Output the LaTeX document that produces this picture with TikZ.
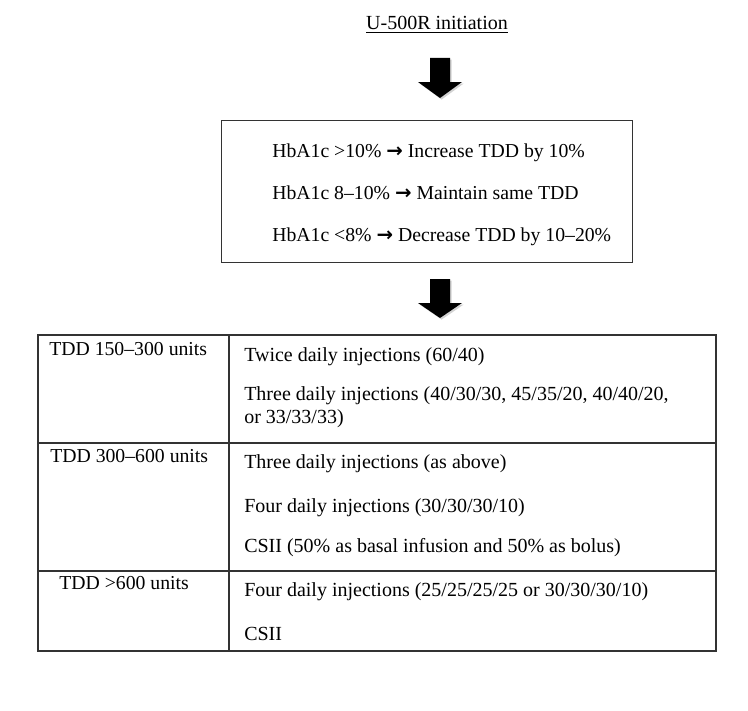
\documentclass[tikz,border=0pt]{standalone}
\usepackage{fontspec}
\setmainfont{Liberation Serif}
\newfontfamily\arrowfont{DejaVu Sans}
\usetikzlibrary{shadows}
\tikzset{
  blockarrow/.style={fill=black, draw=none, drop shadow={opacity=0.35, shadow xshift=1.2pt, shadow yshift=-1.2pt}},
  frame/.style={draw=black!80, line width=0.9pt},
  boxtext/.style={anchor=base west, inner sep=0pt, font=\fontsize{14.8}{17}\selectfont},
  rangetext/.style={anchor=base west, inner sep=0pt, font=\fontsize{14.8}{17}\selectfont},
  celltext/.style={anchor=base west, inner sep=0pt, font=\fontsize{15}{17}\selectfont},
}
\newcommand{\barrow}{{\arrowfont\bfseries →}}
\begin{document}
\begin{tikzpicture}[x=0.75pt,y=-0.75pt]
\useasboundingbox (0,0) rectangle (748,710);
% title
\node[anchor=base, inner sep=0pt, font=\fontsize{15}{18}\selectfont] (title) at (437,30) {\underline{U-500R initiation}};
% arrow 1
\fill[blockarrow] (430,58) -- (450,58) -- (450,82) -- (462,82) -- (440,98) -- (418,82) -- (430,82) -- cycle;
% box
\node[frame, minimum width=411*0.75pt, minimum height=142*0.75pt, anchor=north west, inner sep=0pt] (rules) at (221,120) {};
\node[boxtext] (r1) at (272,157) {HbA1c >10\% \barrow{} Increase TDD by 10\%};
\node[boxtext] (r2) at (272,199) {HbA1c 8–10\% \barrow{} Maintain same TDD};
\node[boxtext] (r3) at (272,241) {HbA1c <8\% \barrow{} Decrease TDD by 10–20\%};
% arrow 2
\fill[blockarrow] (430,279) -- (450,279) -- (450,303) -- (462,303) -- (440,318) -- (418,303) -- (430,303) -- cycle;
% table
\draw[frame] (38,335) rectangle (716,651);
\draw[frame] (38,443) -- (716,443);
\draw[frame] (38,571) -- (716,571);
\draw[frame] (229,335) -- (229,651);
\node[rangetext] (g1) at (49,355) {TDD 150–300 units};
\node[rangetext] (g2) at (50,462) {TDD 300–600 units};
\node[rangetext] (g3) at (59,589) {TDD >600 units};
\node[celltext] (c1) at (244,361) {Twice daily injections (60/40)};
\node[celltext] (c2) at (244,400) {Three daily injections (40/30/30, 45/35/20, 40/40/20,};
\node[celltext] (c3) at (244,423) {or 33/33/33)};
\node[celltext] (c4) at (244,468) {Three daily injections (as above)};
\node[celltext] (c5) at (244,512) {Four daily injections (30/30/30/10)};
\node[celltext] (c6) at (244,552) {CSII (50\% as basal infusion and 50\% as bolus)};
\node[celltext] (c7) at (244,596) {Four daily injections (25/25/25/25 or 30/30/30/10)};
\node[celltext] (c8) at (244,640) {CSII};
\end{tikzpicture}
\end{document}
